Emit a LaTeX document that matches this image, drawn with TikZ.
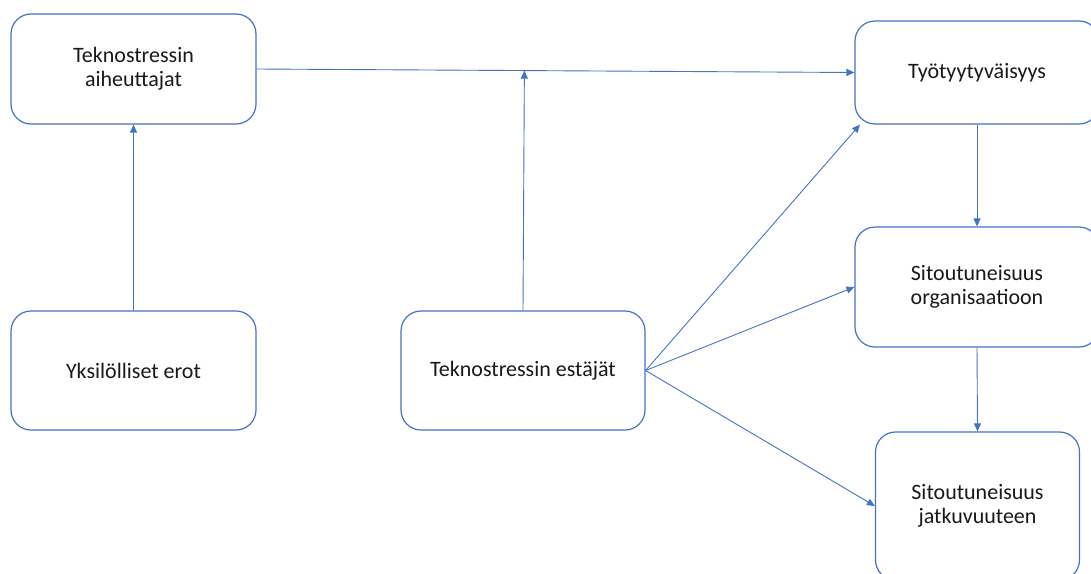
\documentclass[tikz,border=0pt]{standalone}
\usepackage{fontspec}
\setmainfont{Carlito}
\usepackage{tikz}
\usetikzlibrary{positioning,arrows.meta,calc}
\definecolor{office}{HTML}{4472C4}
\tikzset{
  box/.style={rectangle,rounded corners=20pt,draw=office,line width=1.2pt,fill=white,
    align=center,inner sep=4pt,font=\fontsize{22}{24}\selectfont,text=black!90},
  ar/.style={-{Triangle[length=8pt,width=7pt]},line width=0.9pt,draw=office},
}
\begin{document}
\begin{tikzpicture}[x=1pt,y=1pt]
  \useasboundingbox (0,0) rectangle (1091,-573);
  \node[box,minimum width=245pt,minimum height=110pt] (cause) at (133.5,-69) {Teknostressin\\aiheuttajat};
  \node[box,minimum width=245pt,minimum height=119pt] (indiv) at (133.5,-370.5) {Yksilölliset erot};
  \node[box,minimum width=244pt,minimum height=119pt] (inhib) at (523,-370.5) {Teknostressin estäjät};
  \node[box,minimum width=244pt,minimum height=103pt] (satis) at (977,-72.5) {Työtyytyväisyys};
  \node[box,minimum width=244pt,minimum height=120pt] (orgc) at (977,-287) {Sitoutuneisuus\\organisaatioon};
  \node[box,minimum width=204pt,minimum height=148pt] (contc) at (977.5,-506) {Sitoutuneisuus\\jatkuvuuteen};
  \coordinate (hit) at ($(cause.east)!(inhib.north)!(satis.west)$);
  \draw[ar] (cause.east) -- (satis.west);
  \draw[ar] (inhib.north) -- (hit);
  \draw[ar] (indiv.north) -- (cause.south);
  \foreach \t in {satis.204,orgc.west,contc.west} \draw[ar] (inhib.east) -- (\t);
  \draw[ar] (satis.south) -- (orgc.north);
  \draw[ar] (orgc.south) -- (contc.north);
\end{tikzpicture}
\end{document}
